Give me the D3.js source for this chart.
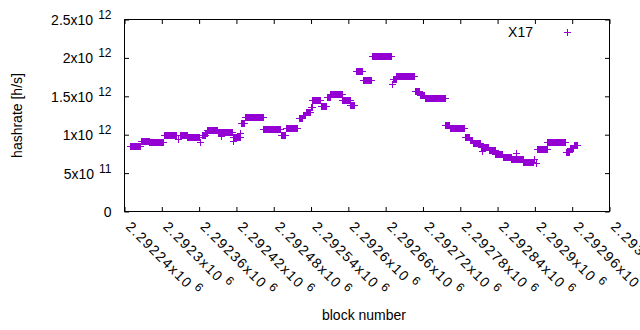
<!DOCTYPE html>
<html>
<head>
<meta charset="utf-8">
<script src="https://cdn.jsdelivr.net/npm/d3@7"></script>
<style>
  html, body { margin: 0; background: #fff; overflow: hidden; }
  svg { display: block; }
  text { font-family: "Liberation Sans", Arial, sans-serif; fill: #000; }
</style>
</head>
<body>
<div id="chart"></div>
<script>
// runs of blocks that share one hashrate value (each run is a string of "+" points)
const runFrom = [2292250, 2292268, 2292281, 2292305, 2292327, 2292330, 2292342, 2292363, 2292365, 2292371,
                 2292374, 2292391, 2292396, 2292402, 2292415, 2292416, 2292427, 2292428, 2292435, 2292464,
                 2292493, 2292501, 2292522, 2292528, 2292532, 2292540, 2292543, 2292557, 2292566, 2292572,
                 2292591, 2292604, 2292613, 2292625, 2292639, 2292671, 2292672, 2292678, 2292708, 2292716,
                 2292724, 2292757, 2292764, 2292789, 2292796, 2292801, 2292814, 2292816, 2292827, 2292837,
                 2292849, 2292863, 2292871, 2292882, 2292900, 2292903, 2292905, 2292921, 2292951, 2292957,
                 2292963];
const runTo   = [2292266, 2292280, 2292303, 2292324, 2292327, 2292341, 2292361, 2292363, 2292370, 2292373,
                 2292390, 2292401, 2292396, 2292414, 2292415, 2292426, 2292427, 2292433, 2292463, 2292491,
                 2292499, 2292519, 2292527, 2292531, 2292539, 2292542, 2292555, 2292565, 2292571, 2292590,
                 2292603, 2292610, 2292623, 2292637, 2292669, 2292671, 2292677, 2292707, 2292715, 2292723,
                 2292756, 2292763, 2292787, 2292795, 2292800, 2292813, 2292826, 2292816, 2292836, 2292848,
                 2292862, 2292881, 2292871, 2292898, 2292900, 2292903, 2292920, 2292950, 2292956, 2292962,
                 2292968];
const runRate = [0.847, 0.912, 0.899, 0.984, 0.938, 0.984, 0.964, 0.900, 0.990, 1.016,
                 1.049, 1.023, 0.980, 1.029, 0.916, 0.968, 1.019, 1.145, 1.223, 1.068,
                 0.984, 1.075, 1.214, 1.255, 1.292, 1.353, 1.448, 1.366, 1.478, 1.526,
                 1.439, 1.383, 1.821, 1.704, 2.016, 1.656, 1.721, 1.756, 1.561, 1.513,
                 1.470, 1.119, 1.081, 0.964, 0.929, 0.886, 0.834, 0.775, 0.790, 0.747,
                 0.704, 0.682, 0.760, 0.639, 0.675, 0.630, 0.812, 0.899, 0.769, 0.825,
                 0.860]; // x10^12 h/s

const yTicks    = [0, 5e11, 1e12, 1.5e12, 2e12, 2.5e12];
const yTickMant = ["0", "5x10", "1x10", "1.5x10", "2x10", "2.5x10"];
const yTickExp  = ["", "11", "12", "12", "12", "12"];
const xTickMant = ["2.29224", "2.2923", "2.29236", "2.29242", "2.29248", "2.29254", "2.2926",
                   "2.29266", "2.29272", "2.29278", "2.29284", "2.2929", "2.29296", "2.29302"];

const width = 640, height = 330;
const plotL = 124.5, plotR = 609.5, plotT = 19.5, plotB = 211.5;
const color = '#9400d3';

const svg = d3.select('#chart').append('svg')
    .attr('width', width)
    .attr('height', height);

const x = d3.scaleLinear().domain([2292240, 2293020]).range([plotL, plotR]);
const y = d3.scaleLinear().domain([0, 2.5e12]).range([plotB, plotT]);

// y axis (ticks pointing in, mirrored on the right)
const yAxis = svg.append('g')
    .attr('transform', `translate(${plotL},0)`)
    .call(d3.axisLeft(y).tickValues(yTicks).tickSize(-4.5).tickPadding(13).tickFormat(''));
yAxis.selectAll('.tick text')
    .attr('font-size', 14)
    .attr('font-family', '"Liberation Sans", Arial, sans-serif')
    .attr('dy', '0.36em')
    .each(function(d, i) {
        const t = d3.select(this);
        t.append('tspan').text(yTickMant[i]);
        if (yTickExp[i]) t.append('tspan').attr('dx', 5).attr('dy', -6).attr('font-size', 12).text(yTickExp[i]);
    });

svg.append('g')
    .attr('transform', `translate(${plotR},0)`)
    .call(d3.axisRight(y).tickValues(yTicks).tickSize(-4.5).tickFormat(''));

// x axis
const xTicks = xTickMant.map(m => Math.round(+m * 1e6));
const xAxis = svg.append('g')
    .attr('transform', `translate(0,${plotB})`)
    .call(d3.axisBottom(x).tickValues(xTicks).tickSize(-4.5).tickFormat(''));
xAxis.selectAll('.tick text')
    .attr('font-size', 14)
    .attr('font-family', '"Liberation Sans", Arial, sans-serif')
    .attr('letter-spacing', 1.4)
    .attr('text-anchor', 'start')
    .attr('y', 0)
    .attr('dy', 0)
    .attr('transform', 'translate(0,16) rotate(45)')
    .each(function(d, i) {
        const t = d3.select(this);
        t.append('tspan').text(xTickMant[i] + 'x10');
        t.append('tspan').attr('dx', 4).attr('dy', -6).attr('font-size', 12).text('6');
    });

svg.append('g')
    .attr('transform', `translate(0,${plotT})`)
    .call(d3.axisTop(x).tickValues(xTicks).tickSize(-4.5).tickFormat(''));

svg.selectAll('.domain').remove();
svg.selectAll('.tick line').attr('stroke', '#000');

// border
svg.append('rect')
    .attr('x', plotL).attr('y', plotT)
    .attr('width', plotR - plotL).attr('height', plotB - plotT)
    .attr('fill', 'none').attr('stroke', '#000');

// points: dense "+" markers, drawn as their union per run
const runs = runFrom.map((f, i) => ({ from: f, to: runTo[i], rate: runRate[i] * 1e12 }));
const marks = svg.append('g').attr('shape-rendering', 'crispEdges');
marks.selectAll('rect')
    .data(runs)
    .join('rect')
        .attr('x', d => x(d.from) - 0.5)
        .attr('width', d => x(d.to) - x(d.from) + 1)
        .attr('y', d => y(d.rate) - 3.5)
        .attr('height', 7)
        .attr('fill', color);
marks.selectAll('line')
    .data(runs)
    .join('line')
        .attr('x1', d => x(d.from) - 3.5)
        .attr('x2', d => x(d.to) + 3.5)
        .attr('y1', d => y(d.rate))
        .attr('y2', d => y(d.rate))
        .attr('stroke', color)
        .attr('stroke-width', 1);

// legend
svg.append('text')
    .attr('x', 533).attr('y', 37)
    .attr('text-anchor', 'end')
    .attr('font-size', 14)
    .text('X17');
const lg = svg.append('g').attr('stroke', color).attr('shape-rendering', 'crispEdges');
lg.append('line').attr('x1', 563.5).attr('x2', 570.5).attr('y1', 32.5).attr('y2', 32.5);
lg.append('line').attr('x1', 567).attr('x2', 567).attr('y1', 29).attr('y2', 36);

// axis titles
svg.append('text')
    .attr('transform', `translate(22,${(plotT + plotB) / 2}) rotate(-90)`)
    .attr('text-anchor', 'middle')
    .attr('font-size', 14)
    .text('hashrate [h/s]');
svg.append('text')
    .attr('x', (plotL + plotR) / 2 - 3).attr('y', 320)
    .attr('text-anchor', 'middle')
    .attr('font-size', 14)
    .text('block number');
</script>
</body>
</html>
